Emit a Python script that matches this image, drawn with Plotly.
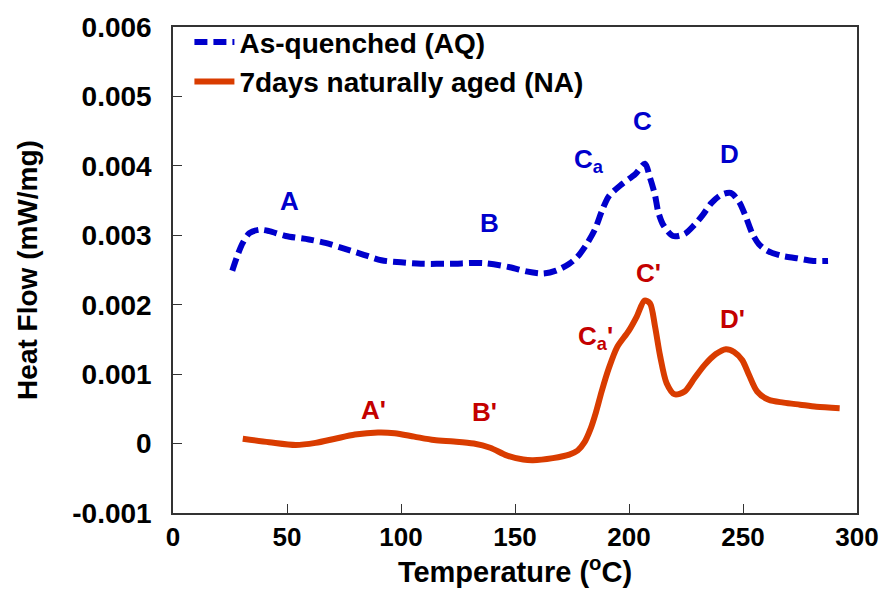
import plotly.graph_objects as go

# As-quenched (AQ)
aq_T = [26, 28.5, 30.6, 33.5, 37.9, 42.2, 49.4, 59.6, 66.8, 74, 82.7, 91.4, 100, 108.7,
        121.7, 136.2, 147.7, 155, 162.2, 168, 173.8, 177.4, 181, 185, 188, 191.1, 197,
        202.7, 207, 209.2, 211.4, 212.8, 215, 219.3, 224.4, 228.7, 232.3, 236, 240.3,
        244.6, 248.3, 251.2, 254, 257, 260.5, 266.3, 273.5, 280.8, 287.3]
aq_H = [0.00249, 0.00273, 0.00289, 0.00303, 0.00308, 0.00306, 0.00299, 0.00294, 0.00289,
        0.00282, 0.00273, 0.00264, 0.00261, 0.00259, 0.00259, 0.00260, 0.00254, 0.00248,
        0.00245, 0.00249, 0.00259, 0.00269, 0.00285, 0.00308, 0.00334, 0.00356, 0.00374,
        0.00388, 0.00403, 0.00383, 0.00358, 0.00334, 0.00315, 0.00299, 0.00302, 0.00315,
        0.00329, 0.00346, 0.00358, 0.00361, 0.00348, 0.00327, 0.00303, 0.00287, 0.00278,
        0.00271, 0.00267, 0.00263, 0.00263]

# 7 days naturally aged (NA)
na_T = [30.6, 42.2, 53.8, 62.5, 71.1, 79.8, 89.9, 97.2, 105.8, 114.5, 123.2, 131.9, 139.1,
        146.3, 153.6, 157.9, 166.6, 173.8, 177.5, 180.5, 183, 185.5, 188, 191.1, 194.8, 199.8,
        203.4, 206.8, 209.2, 211.4, 213.6, 216.5, 220, 224.4, 228.7, 233.1, 238.1, 242.5,
        246.1, 249.7, 252.6, 256.2, 261.3, 267.8, 275, 282.2, 292.4]
na_H = [0.00007, 0.00002, -0.00002, 0.00001, 0.00007, 0.00013, 0.00016, 0.00015, 0.00010,
        0.00005, 0.00003, 0.00000, -0.00006, -0.00017, -0.00023, -0.00024, -0.00021,
        -0.00016, -0.00010, 0.00002, 0.00020, 0.00045, 0.00075, 0.00108, 0.00139, 0.00162,
        0.00183, 0.00206, 0.00202, 0.00169, 0.00127, 0.00087, 0.00071, 0.00075, 0.00094,
        0.00113, 0.00129, 0.00136, 0.00132, 0.00120, 0.00099, 0.00075, 0.00063, 0.00059,
        0.00056, 0.00053, 0.00051]

# Peak labels
aq_labels = ["A", "B", "C<sub>a</sub>", "C", "D"]
aq_label_T = [51.3, 139, 182.5, 205.8, 244]
aq_label_H = [0.00350, 0.00317, 0.00408, 0.00464, 0.00417]
na_labels = ["A'", "B'", "C<sub>a</sub>'", "C'", "D'"]
na_label_T = [87.8, 136.8, 185.4, 208.4, 245.3]
na_label_H = [0.00049, 0.00045, 0.00153, 0.00246, 0.00179]

x_ticks = [0, 50, 100, 150, 200, 250, 300]
y_ticks = [-0.001, 0, 0.001, 0.002, 0.003, 0.004, 0.005, 0.006]
y_tick_text = ["-0.001", "0", "0.001", "0.002", "0.003", "0.004", "0.005", "0.006"]

BLUE = "#0000CC"
ORANGE = "#D93C00"
DARKRED = "#C40000"
FONT = "Liberation Sans, Arial, sans-serif"

fig = go.Figure()
fig.add_trace(go.Scatter(x=aq_T, y=aq_H, mode="lines", name="As-quenched (AQ)",
                         line=dict(color=BLUE, width=6, dash="13px,6px", shape="spline",
                                   smoothing=0.8)))
fig.add_trace(go.Scatter(x=na_T, y=na_H, mode="lines", name="7days naturally aged (NA)",
                         line=dict(color=ORANGE, width=6, shape="spline", smoothing=0.8)))

for t, x, y in zip(aq_labels, aq_label_T, aq_label_H):
    fig.add_annotation(x=x, y=y, text=t, showarrow=False,
                       font=dict(family=FONT, size=26, color=BLUE, weight="bold"))
for t, x, y in zip(na_labels, na_label_T, na_label_H):
    fig.add_annotation(x=x, y=y, text=t, showarrow=False,
                       font=dict(family=FONT, size=26, color=DARKRED, weight="bold"))

fig.update_layout(
    width=891, height=594,
    margin=dict(l=173, r=27, t=22, b=77),
    paper_bgcolor="white", plot_bgcolor="white",
    font=dict(family=FONT, color="black"),
    showlegend=True,
    legend=dict(x=0.024, y=1.02, xanchor="left", yanchor="top", bgcolor="rgba(0,0,0,0)",
                font=dict(family=FONT, size=28, weight="bold"),
                itemwidth=40, tracegroupgap=0),
    xaxis=dict(range=[0, 300], tickvals=x_ticks, ticks="inside", ticklen=9, tickwidth=1,
               tickcolor="#333", showline=True, linecolor="#333", linewidth=1.5,
               mirror=True, showgrid=False, zeroline=False,
               tickfont=dict(family=FONT, size=26, weight="bold", color="black"),
               title=dict(text="Temperature (<sup>o</sup>C)", standoff=10,
                          font=dict(family=FONT, size=29, weight="bold", color="black"))),
    yaxis=dict(range=[-0.001, 0.006], tickvals=y_ticks, ticktext=y_tick_text,
               ticks="inside", ticklen=9, tickwidth=1, tickcolor="#333",
               showline=True, linecolor="#333", linewidth=1.5, mirror=True,
               showgrid=False, zeroline=False, ticklabelstandoff=14,
               tickfont=dict(family=FONT, size=28, weight="bold", color="black"),
               title=dict(text="Heat Flow (mW/mg)", standoff=26,
                          font=dict(family=FONT, size=28, weight="bold", color="black"))),
)

fig.write_html("out.html")
